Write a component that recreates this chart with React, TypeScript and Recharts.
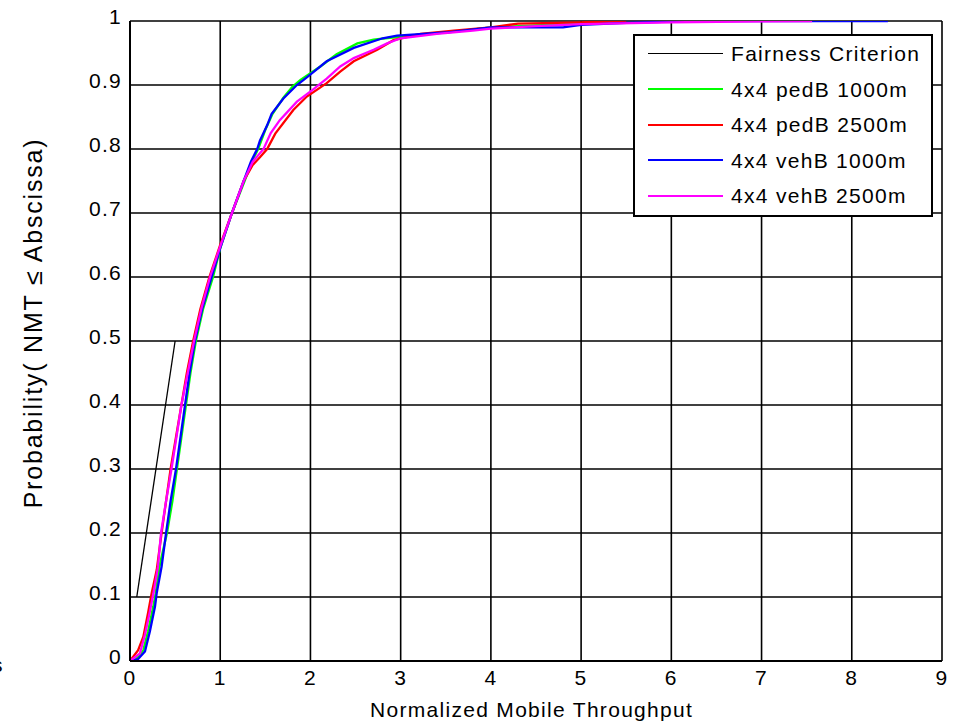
import { LineChart, Line, XAxis, YAxis, CartesianGrid } from 'recharts';

// CDF points, [throughput, probability]
const fairness: number[][] = [[0.075, 0.1], [0.5, 0.5]];

const pedB1000: number[][] = [
  [0, 0], [0.05, 0], [0.1, 0.008], [0.148, 0.017], [0.2, 0.046], [0.258, 0.085], [0.285, 0.106],
  [0.33, 0.15], [0.41, 0.2], [0.47, 0.25], [0.52, 0.3], [0.57, 0.35], [0.62, 0.4], [0.67, 0.45],
  [0.73, 0.5], [0.81, 0.55], [0.92, 0.6], [1.0, 0.645], [1.13, 0.7], [1.27, 0.75], [1.35, 0.78],
  [1.42, 0.8], [1.5, 0.83], [1.58, 0.855], [1.7, 0.88], [1.8, 0.897], [1.89, 0.908], [2.11, 0.929],
  [2.29, 0.948], [2.52, 0.965], [2.7, 0.971], [2.96, 0.975], [3.3, 0.98], [3.7, 0.985], [4.0, 0.99],
  [4.5, 0.993], [5.0, 0.996], [5.3, 1.0],
];

const pedB2500: number[][] = [
  [0, 0], [0.09, 0.017], [0.148, 0.038], [0.2, 0.075], [0.24, 0.106], [0.296, 0.142], [0.35, 0.2],
  [0.4, 0.25], [0.45, 0.3], [0.51, 0.35], [0.57, 0.4], [0.63, 0.45], [0.7, 0.5], [0.78, 0.55],
  [0.88, 0.6], [1.0, 0.65], [1.13, 0.7], [1.26, 0.75], [1.36, 0.775], [1.44, 0.787], [1.52, 0.8],
  [1.61, 0.824], [1.81, 0.861], [1.96, 0.882], [2.18, 0.903], [2.33, 0.921], [2.48, 0.937],
  [2.74, 0.955], [2.92, 0.97], [3.22, 0.98], [3.59, 0.985], [4.0, 0.99], [4.3, 0.996], [5.0, 0.998],
  [5.5, 1.0],
];

const vehB1000: number[][] = [
  [0, 0], [0.09, 0.003], [0.166, 0.015], [0.22, 0.046], [0.277, 0.085], [0.296, 0.106], [0.35, 0.147],
  [0.4, 0.2], [0.45, 0.25], [0.51, 0.3], [0.56, 0.35], [0.61, 0.4], [0.66, 0.45], [0.72, 0.5],
  [0.8, 0.55], [0.905, 0.6], [1.0, 0.645], [1.13, 0.7], [1.26, 0.75], [1.34, 0.78], [1.41, 0.8],
  [1.44, 0.813], [1.52, 0.837], [1.57, 0.855], [1.7, 0.879], [1.85, 0.9], [1.96, 0.912], [2.18, 0.937],
  [2.48, 0.958], [2.8, 0.973], [2.96, 0.977], [3.5, 0.982], [4.0, 0.99], [4.8, 0.99], [5.0, 0.994],
  [5.5, 0.997], [6.2, 1.0], [8.4, 1.0],
];

const vehB2500: number[][] = [
  [0, 0], [0.11, 0.012], [0.166, 0.041], [0.22, 0.077], [0.26, 0.106], [0.31, 0.147], [0.344, 0.2],
  [0.4, 0.25], [0.46, 0.3], [0.515, 0.35], [0.57, 0.4], [0.64, 0.45], [0.71, 0.5], [0.79, 0.55],
  [0.887, 0.6], [1.0, 0.648], [1.13, 0.7], [1.26, 0.75], [1.36, 0.78], [1.48, 0.8], [1.56, 0.825],
  [1.66, 0.845], [1.85, 0.874], [2.02, 0.892], [2.18, 0.91], [2.33, 0.929], [2.48, 0.942], [2.7, 0.955],
  [2.85, 0.965], [3.0, 0.973], [3.4, 0.98], [3.8, 0.985], [4.0, 0.988], [4.5, 0.992], [5.0, 0.995],
  [6.0, 0.998], [7.56, 1.0],
];

const xTicks = [0, 1, 2, 3, 4, 5, 6, 7, 8, 9];
const yTicks = [0, 0.1, 0.2, 0.3, 0.4, 0.5, 0.6, 0.7, 0.8, 0.9, 1];

const series = [
  { name: 'Fairness Criterion', pts: fairness, color: '#000000', width: 1.3 },
  { name: '4x4 pedB 1000m', pts: pedB1000, color: '#00ff00', width: 2.3 },
  { name: '4x4 pedB 2500m', pts: pedB2500, color: '#ff0000', width: 2.3 },
  { name: '4x4 vehB 1000m', pts: vehB1000, color: '#0000ff', width: 2.3 },
  { name: '4x4 vehB 2500m', pts: vehB2500, color: '#ff00ff', width: 2.3 },
];

const font = '"Liberation Sans", Arial, sans-serif';
const tickStyle = { fontSize: 21, fill: '#000', fontFamily: font, letterSpacing: 1.3 };

const LegendBox = () => (
  <div
    style={{
      position: 'absolute',
      left: 633,
      top: 34,
      width: 300,
      height: 183,
      boxSizing: 'border-box',
      border: '2px solid #000',
      background: '#fff',
      fontFamily: font,
      fontSize: 21,
      letterSpacing: 1.3,
      color: '#000',
    }}
  >
    {series.map((s) => (
      <div key={s.name} style={{ height: 35.5, display: 'flex', alignItems: 'center' }}>
        <div style={{ marginLeft: 13, width: 75, height: Math.min(s.width, 2), background: s.color }} />
        <span style={{ marginLeft: 8, whiteSpace: 'nowrap', lineHeight: '21px' }}>{s.name}</span>
      </div>
    ))}
  </div>
);

export default function App() {
  return (
    <div style={{ position: 'absolute', left: 0, top: 0, width: 963, height: 723, background: '#fff', fontFamily: font }}>
      <LineChart width={963} height={723} margin={{ top: 21, right: 21, left: 0, bottom: 0 }}>
        <CartesianGrid stroke="#000" strokeWidth={1.6} horizontalValues={yTicks} verticalValues={xTicks} />
        <XAxis
          type="number"
          dataKey="x"
          domain={[0, 9]}
          ticks={xTicks}
          allowDataOverflow
          height={62}
          tickLine={false}
          tickSize={0}
          tickMargin={9}
          stroke="#000"
          strokeWidth={2}
          tick={tickStyle}
        />
        <YAxis
          type="number"
          dataKey="y"
          domain={[0, 1]}
          ticks={yTicks}
          allowDataOverflow
          width={130}
          tickLine={false}
          tickSize={0}
          tickMargin={8}
          stroke="#000"
          strokeWidth={2}
          tick={{ ...tickStyle, dy: -4 }}
        />
        {series.map((s) => (
          <Line
            key={s.name}
            name={s.name}
            data={s.pts.map(([x, y]) => ({ x, y }))}
            dataKey="y"
            type="linear"
            stroke={s.color}
            strokeWidth={s.width}
            dot={false}
            activeDot={false}
            isAnimationActive={false}
          />
        ))}
      </LineChart>
      <LegendBox />
      <div
        style={{
          position: 'absolute',
          left: 370,
          top: 699,
          fontSize: 21,
          lineHeight: '21px',
          letterSpacing: 1.3,
          whiteSpace: 'nowrap',
          color: '#000',
        }}
      >
        Normalized Mobile Throughput
      </div>
      <div
        style={{
          position: 'absolute',
          left: 33,
          top: 323,
          fontSize: 25,
          lineHeight: '25px',
          letterSpacing: 1.8,
          whiteSpace: 'nowrap',
          color: '#000',
          transform: 'translate(-50%, -50%) rotate(-90deg)',
        }}
      >
        Probability( NMT ≤ Abscissa)
      </div>
      <div style={{ position: 'absolute', left: -8, top: 654, fontSize: 21, lineHeight: '21px', color: '#000' }}>s</div>
    </div>
  );
}
